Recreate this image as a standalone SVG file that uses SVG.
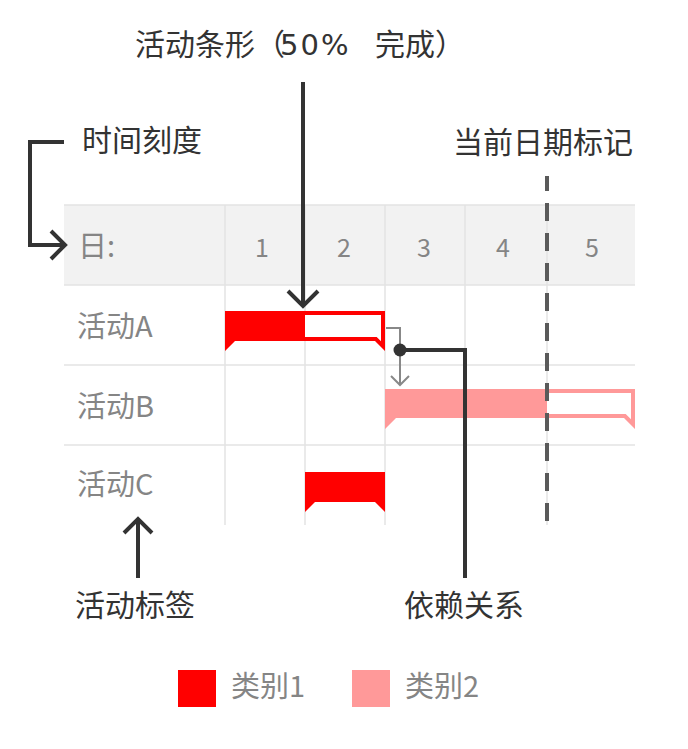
<svg xmlns="http://www.w3.org/2000/svg" width="688" height="749" viewBox="0 0 688 749">
<style>
text{font-family:"Noto Sans CJK SC","Noto Sans",sans-serif}
.dark{fill:#333;font-size:30px}
.gray{fill:#858585;font-size:29px}
.num{fill:#858585;font-size:25px;text-anchor:middle}
.grid{stroke:#e3e3e3;stroke-width:1.5;fill:none}
.arrow{stroke:#333;stroke-width:4;fill:none}
.c1{fill:#ff0000}
.c2{fill:#ff9999}
</style>
<rect width="688" height="749" fill="#fff"/>
<g id="grid">
<rect x="64" y="205" width="571" height="80" fill="#f2f2f2"/>
<line class="grid" x1="64" y1="205" x2="635" y2="205"/>
<line class="grid" x1="64" y1="285" x2="635" y2="285"/>
<line class="grid" x1="64" y1="365" x2="635" y2="365"/>
<line class="grid" x1="64" y1="445" x2="635" y2="445"/>
<line class="grid" x1="225" y1="205" x2="225" y2="525"/>
<line class="grid" x1="305" y1="205" x2="305" y2="525"/>
<line class="grid" x1="385" y1="205" x2="385" y2="525"/>
<line class="grid" x1="465" y1="205" x2="465" y2="525"/>
<line class="grid" x1="547" y1="205" x2="547" y2="525"/>
</g>
<g id="header">
<text class="gray" x="78" y="257">日:</text>
<text class="num" x="262" y="257">1</text>
<text class="num" x="344" y="257">2</text>
<text class="num" x="424" y="257">3</text>
<text class="num" x="503" y="257">4</text>
<text class="num" x="592" y="257">5</text>
</g>
<g id="row-labels">
<text class="gray" x="77" y="337">活动<tspan letter-spacing="1">A</tspan></text>
<text class="gray" x="77" y="417">活动<tspan letter-spacing="1">B</tspan></text>
<text class="gray" x="77" y="495">活动<tspan letter-spacing="1">C</tspan></text>
</g>
<g id="bar-a">
<polygon class="c1" points="225,311 385,311 385,351 375,341 235,341 225,351"/>
<polygon fill="#fff" points="305,315 381,315 381,341.3 376.7,337 305,337"/>
</g>
<g id="bar-b">
<polygon class="c2" points="385,389 635,389 635,429 624,418 396,418 385,429"/>
<polygon fill="#fff" points="547,393 631,393 631,419.3 625.7,414 547,414"/>
</g>
<g id="bar-c">
<polygon class="c1" points="305,472 385,472 385,512 375,502 315,502 305,512"/>
</g>
<g id="today-marker">
<line x1="547" y1="176" x2="547" y2="523" stroke="#5a5a5a" stroke-width="4" stroke-dasharray="18 12" stroke-dashoffset="3"/>
<text class="dark" x="453" y="153">当前日期标记</text>
</g>
<g id="connectors">
<polyline points="386,328 400,328 400,385" stroke="#888" stroke-width="2" fill="none"/>
<polyline points="391,376 400,385 409,376" stroke="#888" stroke-width="2" fill="none"/>
<polyline class="arrow" points="400,350 465,350 465,578"/>
<circle cx="400" cy="350" r="6.5" fill="#333"/>
<line class="arrow" x1="303" y1="82" x2="303" y2="305"/>
<polyline class="arrow" points="288,291 303,306 318,291"/>
<polyline class="arrow" points="64,142 30,142 30,245 65,245"/>
<polyline class="arrow" points="51,231 65,245 51,259"/>
<line class="arrow" x1="138" y1="578" x2="138" y2="519"/>
<polyline class="arrow" points="124,533 138,519 152,533"/>
</g>
<g id="annotations">
<text class="dark" y="55"><tspan x="135">活动条形（</tspan><tspan x="280" style="font-family:'DejaVu Sans',sans-serif" font-size="29" letter-spacing="2">50%</tspan><tspan x="375">完成）</tspan></text>
<text class="dark" x="82" y="151">时间刻度</text>
<text class="dark" x="75" y="616">活动标签</text>
<text class="dark" x="404" y="616">依赖关系</text>
</g>
<g id="legend">
<rect x="178" y="670" width="38" height="37" class="c1"/>
<text class="gray" x="231" y="697">类别1</text>
<rect x="352" y="670" width="38" height="37" class="c2"/>
<text class="gray" x="405" y="697">类别2</text>
</g>
</svg>
